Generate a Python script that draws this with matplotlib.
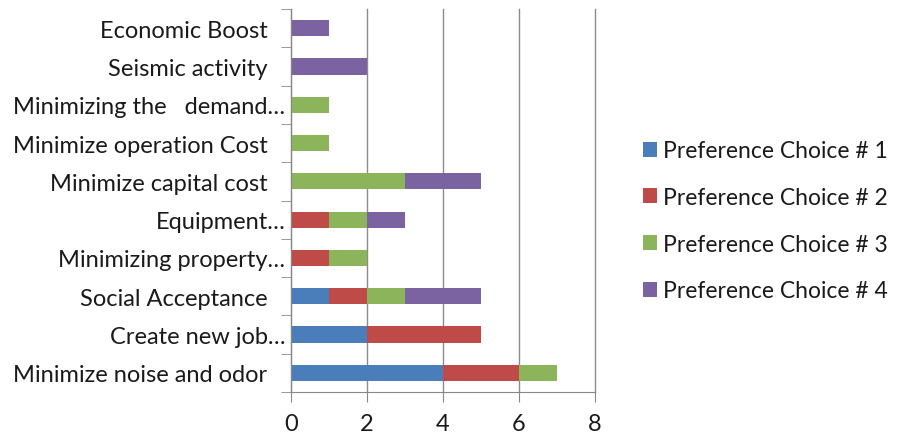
import numpy as np
import matplotlib.pyplot as plt
from matplotlib.ticker import FixedLocator

plt.rcParams['font.family'] = ['Lato', 'DejaVu Sans']

# categories, bottom to top
criteria = ['Minimize noise and odor   ', 'Create new job…', 'Social Acceptance   ',
            'Minimizing property…', 'Equipment…', 'Minimize capital cost   ',
            'Minimize operation Cost   ', 'Minimizing the   demand…',
            'Seismic activity   ', 'Economic Boost   ']
choice1 = [4, 2, 1, 0, 0, 0, 0, 0, 0, 0]
choice2 = [2, 3, 1, 1, 1, 0, 0, 0, 0, 0]
choice3 = [1, 0, 1, 1, 1, 3, 1, 1, 0, 0]
choice4 = [0, 0, 2, 0, 1, 2, 0, 0, 2, 1]
series = [choice1, choice2, choice3, choice4]
names = ['Preference Choice # 1', 'Preference Choice # 2',
         'Preference Choice # 3', 'Preference Choice # 4']
colors = ['#4A7EBB', '#BE4B48', '#8CB45A', '#7B62A0']

fig = plt.figure(figsize=(8.98, 4.39), dpi=100)
ax = fig.add_axes([0.324, 0.105, 0.3385, 0.872])

y = np.arange(len(criteria))
left = np.zeros(len(criteria))
bars = []
for vals, name, c in zip(series, names, colors):
    b = ax.barh(y, vals, left=left, height=0.42, color=c, label=name, zorder=3)
    bars.append(b)
    left += np.array(vals)

ax.set_xlim(0, 8)
ax.set_ylim(-0.5, len(criteria) - 0.5)
ax.set_xticks([0, 2, 4, 6, 8])
ax.set_yticks(y)
ax.set_yticklabels(criteria)
ax.yaxis.set_minor_locator(FixedLocator(np.arange(len(criteria) + 1) - 0.5))
ax.tick_params(axis='y', which='major', length=0, pad=4, labelsize=17, labelcolor='#1a1a1a')
ax.tick_params(axis='y', which='minor', length=7, color='#888888', direction='out')
ax.tick_params(axis='x', length=7, color='#888888', direction='out', pad=8,
               labelsize=17, labelcolor='#1a1a1a')

ax.grid(axis='x', color='#8c8c8c', linewidth=1, zorder=0)
for gl in ax.get_xgridlines():
    gl.set_clip_on(False)
for s in ['top', 'right']:
    ax.spines[s].set_visible(False)
for s in ['left', 'bottom']:
    ax.spines[s].set_color('#888888')
    ax.spines[s].set_zorder(4)

fig.legend(handles=bars, labels=names, loc='center left', bbox_to_anchor=(0.693, 0.495),
           frameon=False, fontsize=16.5, handlelength=0.62, handleheight=0.62,
           handletextpad=0.27, labelspacing=1.12, labelcolor='#1a1a1a')

fig.savefig('out.png', dpi=100)
